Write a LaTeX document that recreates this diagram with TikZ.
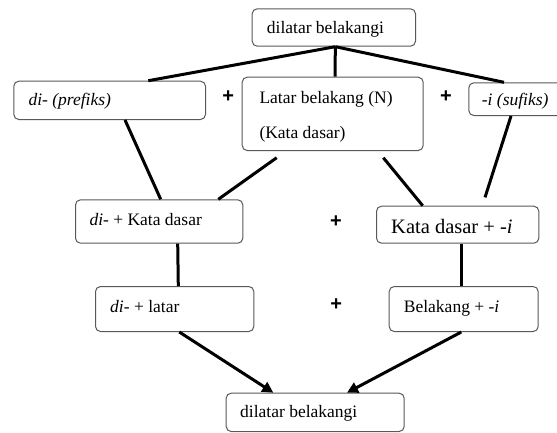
\documentclass[tikz,border=0pt]{standalone}
\usepackage{fontspec}
\setmainfont{Liberation Serif}
\newfontfamily\plusfont{Liberation Sans}
\usetikzlibrary{arrows.meta}
\begin{document}
\begin{tikzpicture}[x=1pt,y=-1pt,
  box/.style={draw=black!65,line width=1pt,rounded corners=5pt,inner sep=0pt,anchor=north west,fill=white},
  txt/.style={anchor=base west,inner sep=0pt,font=\fontsize{17.5}{21}\selectfont},
  bigtxt/.style={anchor=base west,inner sep=0pt,font=\fontsize{20.5}{24}\selectfont},
  plus/.style={inner sep=0pt,font=\plusfont\bfseries\fontsize{20}{24}\selectfont},
  conn/.style={line width=3pt,black},
  arr/.style={line width=3pt,black,-{Triangle[length=11pt,width=11pt]}}]
\useasboundingbox (0,0) rectangle (557,432);
% boxes
\node[box,minimum width=163.3pt,minimum height=37.4pt] (top) at (251.7,8.3) {};
\node[box,minimum width=191.7pt,minimum height=38.3pt] (pre) at (13.3,80.7) {};
\node[box,minimum width=181pt,minimum height=73.3pt] (mid) at (241.7,76.7) {};
\node[box,minimum width=95pt,minimum height=32.7pt] (suf) at (468.3,82.3) {};
\node[box,minimum width=167.3pt,minimum height=43.4pt] (kda) at (75,199.3) {};
\node[box,minimum width=162.3pt,minimum height=37pt] (kdb) at (376,205.7) {};
\node[box,minimum width=158.3pt,minimum height=45pt] (lat) at (95,286) {};
\node[box,minimum width=149pt,minimum height=45pt] (bel) at (388.7,286) {};
\node[box,minimum width=178pt,minimum height=38.3pt] (bot) at (225.7,392.7) {};
% texts
\node[txt] (topT) at (266.7,33) {dilatar belakangi};
\node[txt] (preT) at (28.3,105) {\textit{di- (prefiks)}};
\node[txt] (midT1) at (259.3,103) {Latar belakang (N)};
\node[txt] (midT2) at (259.3,138) {(Kata dasar)};
\node[txt] (sufT) at (481.7,105) {\textit{-i (sufiks)}};
\node[txt] (kdaT) at (89.3,225.7) {\textit{di}- + Kata dasar};
\node[bigtxt] (kdbT) at (391,233.3) {Kata dasar + -\textit{i}};
\node[txt] (latT) at (110,312) {\textit{di}- + latar};
\node[txt] (belT) at (403.7,312) {Belakang + -\textit{i}};
\node[txt] (botT) at (240,417) {dilatar belakangi};
% plus signs
\node[plus] (p1) at (228.3,96.7) {+};
\node[plus] (p2) at (446,96.7) {+};
\node[plus] (p3) at (336,221.7) {+};
\node[plus] (p4) at (336.3,304.3) {+};
% connectors
\coordinate (j) at ([xshift=1.5pt]top.south);
\draw[conn] (j) -- ([xshift=135pt]pre.north west);
\draw[conn] (j) -- ([xshift=93.3pt]mid.north west);
\draw[conn] (j) -- ([xshift=35.7pt]suf.north west);
\draw[conn] ([xshift=111.7pt]pre.south west) -- ([xshift=85.7pt]kda.north west);
\draw[conn] ([xshift=35pt,yshift=-6.7pt]mid.south west) -- ([xshift=143.3pt]kda.north west);
\draw[conn] ([xshift=141.6pt,yshift=-6.7pt]mid.south west) -- ([xshift=46.7pt]kdb.north west);
\draw[conn] ([xshift=42.7pt]suf.south west) -- ([xshift=109pt,yshift=8.3pt]kdb.north west);
\draw[conn] ([xshift=102.7pt]kda.south west) -- ([xshift=83.3pt]lat.north west);
\draw[conn] ([xshift=85.3pt]kdb.south west) -- ([xshift=72.6pt]bel.north west);
\draw[arr] ([xshift=84.3pt]lat.south west) -- ([xshift=47.6pt]bot.north west);
\draw[arr] ([xshift=72.6pt]bel.south west) -- ([xshift=121.3pt]bot.north west);
\end{tikzpicture}
\end{document}
